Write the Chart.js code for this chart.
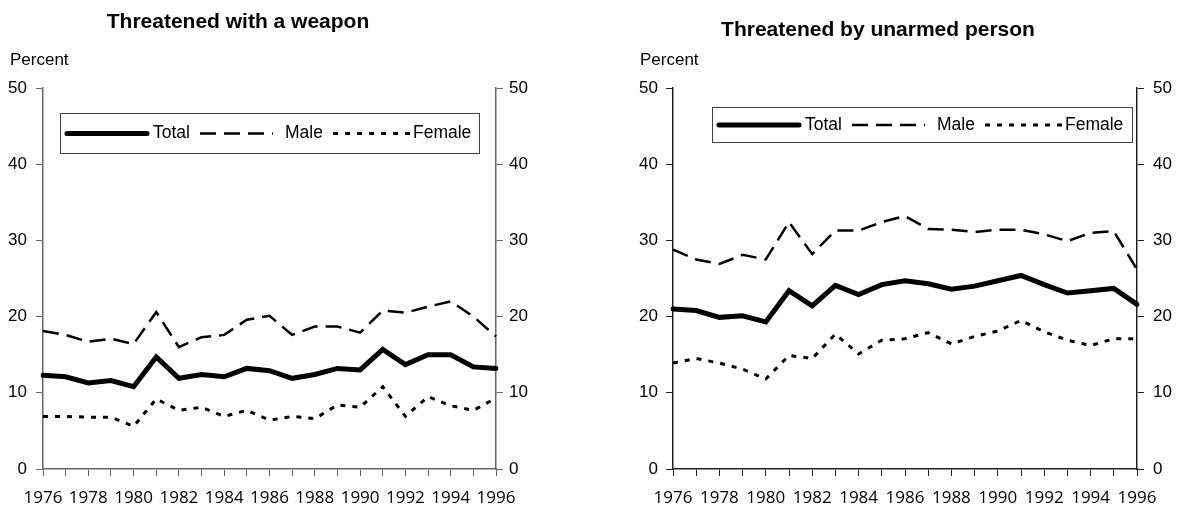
<!DOCTYPE html>
<html>
<head>
<meta charset="utf-8">
<title>Threatened with a weapon / by unarmed person</title>
<script src="https://cdn.jsdelivr.net/npm/chart.js@4.4.1/dist/chart.umd.min.js"></script>
<style>
  html, body { margin: 0; padding: 0; background: #fff; }
  body { width: 1179px; height: 514px; position: relative; overflow: hidden; }
  .panel { position: absolute; top: 0; height: 514px; }
</style>
</head>
<body>
<div class="panel" style="left:0;width:590px"><canvas id="weaponChart" width="590" height="514"></canvas></div>
<div class="panel" style="left:590px;width:589px"><canvas id="unarmedChart" width="589" height="514"></canvas></div>
<script>
const years = ['1976','1977','1978','1979','1980','1981','1982','1983','1984','1985','1986',
               '1987','1988','1989','1990','1991','1992','1993','1994','1995','1996'];
const seriesNames = ['Total', 'Male', 'Female'];
const yTicks = [0, 10, 20, 30, 40, 50];

const weaponTotal  = [12.3, 12.1, 11.3, 11.6, 10.8, 14.7, 11.9, 12.4, 12.1, 13.2, 12.9, 11.9, 12.4, 13.2, 13.0, 15.7, 13.7, 15.0, 15.0, 13.4, 13.2];
const weaponMale   = [18.1, 17.6, 16.7, 17.1, 16.4, 20.6, 16.0, 17.3, 17.6, 19.6, 20.1, 17.6, 18.7, 18.7, 17.9, 20.8, 20.5, 21.3, 22.0, 20.0, 17.4];
const weaponFemale = [6.9, 6.9, 6.8, 6.8, 5.6, 9.2, 7.7, 8.1, 6.9, 7.7, 6.4, 6.9, 6.6, 8.4, 8.1, 10.8, 6.9, 9.5, 8.3, 7.7, 9.3];

const unarmedTotal  = [21.0, 20.8, 19.9, 20.1, 19.3, 23.4, 21.4, 24.1, 22.9, 24.2, 24.7, 24.3, 23.6, 24.0, 24.7, 25.4, 24.2, 23.1, 23.4, 23.7, 21.6];
const unarmedMale   = [28.8, 27.5, 26.9, 28.1, 27.5, 32.4, 28.2, 31.3, 31.3, 32.4, 33.2, 31.5, 31.4, 31.1, 31.4, 31.4, 30.8, 29.9, 31.0, 31.2, 26.2];
const unarmedFemale = [13.9, 14.5, 13.9, 13.1, 11.8, 14.9, 14.5, 17.7, 15.1, 16.9, 17.1, 17.9, 16.4, 17.4, 18.1, 19.5, 18.0, 16.9, 16.2, 17.1, 17.1];

const SANS = "'Liberation Sans', Arial, sans-serif";
const YEAR_FONT = "'Open Sans', 'Noto Sans', sans-serif";

// line look per series: Total solid heavy, Male long dash, Female short dash
const lineStyles = [
    { borderWidth: 5, borderDash: [], borderCapStyle: 'round' },
    { borderWidth: 2.5, borderDash: [16, 8], borderCapStyle: 'butt' },
    { borderWidth: 3, borderDash: [5, 7], borderCapStyle: 'butt' }
];

// titles, "Percent" and the boxed legend are painted on the canvas here
const panelText = {
    id: 'panelText',
    afterDraw(chart, args, opts) {
        const ctx = chart.ctx;
        ctx.save();
        ctx.fillStyle = '#000';
        ctx.textBaseline = 'middle';
        ctx.font = `bold 21px ${SANS}`;
        ctx.textAlign = 'center';
        ctx.fillText(opts.title, opts.titleX, opts.titleY);
        ctx.font = `17px ${SANS}`;
        ctx.textAlign = 'left';
        ctx.fillText('Percent', opts.percentX, opts.percentY);

        // legend box
        const lg = opts.legend;
        ctx.strokeStyle = '#444';
        ctx.lineWidth = 1;
        ctx.strokeRect(lg.x + 0.5, lg.y + 0.5, lg.w, lg.h);
        const midY = lg.y + lg.h / 2 + 0.5;
        ctx.font = `17.5px ${SANS}`;
        chart.data.datasets.forEach((ds, i) => {
            const item = lg.items[i];
            ctx.beginPath();
            ctx.setLineDash(ds.borderDash || []);
            ctx.lineCap = ds.borderCapStyle || 'butt';
            ctx.lineWidth = ds.borderWidth;
            ctx.strokeStyle = '#000';
            ctx.moveTo(lg.x + item.from, midY);
            ctx.lineTo(lg.x + item.to, midY);
            ctx.stroke();
            ctx.setLineDash([]);
            ctx.fillText(ds.label, lg.x + item.text, midY);
        });
        ctx.restore();
    }
};

function buildChart(canvasId, values, o) {
    const datasets = values.map((data, i) => ({
        label: seriesNames[i],
        data: data,
        borderColor: '#000',
        backgroundColor: '#000',
        pointRadius: 0,
        tension: 0,
        fill: false,
        ...lineStyles[i]
    }));

    const yAxis = (pos, width, pad) => ({
        position: pos,
        min: 0, max: 50,
        afterBuildTicks: s => { s.ticks = yTicks.map(v => ({ value: v })); },
        afterFit: s => { s.width = width; },
        grid: { drawOnChartArea: false, drawTicks: true, tickLength: 7, color: o.axisColor },
        border: { display: true, color: o.axisColor, width: 1.5 },
        ticks: { padding: pad, color: '#000', font: { family: SANS, size: 17 } }
    });

    return new Chart(document.getElementById(canvasId), {
        type: 'line',
        data: { labels: years, datasets: datasets },
        options: {
            responsive: false,
            animation: false,
            devicePixelRatio: 1,
            layout: { padding: { top: 88, left: 0, right: 0, bottom: 0 } },
            plugins: {
                legend: { display: false },
                tooltip: { enabled: false },
                panelText: o.text
            },
            scales: {
                x: {
                    offset: false,
                    afterFit: s => { s.height = 45; },
                    grid: { drawOnChartArea: false, drawTicks: true, tickLength: 7, color: o.axisColor, offset: false },
                    border: { display: true, color: o.axisColor, width: 1.5 },
                    ticks: {
                        autoSkip: false, maxRotation: 0, padding: 12, color: '#000',
                        font: { family: YEAR_FONT, size: 17 },
                        callback: (v, i) => (i % 2 === 0 ? years[i] : '')
                    }
                },
                y: yAxis('left', o.leftW, o.leftPad),
                y2: yAxis('right', o.rightW, o.rightPad)
            }
        },
        plugins: [panelText]
    });
}

const legendItems = [
    { from: 7, to: 87, text: 93 },
    { from: 140, to: 213, text: 225 },
    { from: 273, to: 352, text: 353 }
];

buildChart('weaponChart', [weaponTotal, weaponMale, weaponFemale], {
    axisColor: '#666',
    leftW: 43, leftPad: 9, rightW: 94, rightPad: 6,
    text: {
        title: 'Threatened with a weapon', titleX: 238, titleY: 22,
        percentX: 10, percentY: 60,
        legend: { x: 60, y: 113, w: 419, h: 40, items: legendItems }
    }
});

buildChart('unarmedChart', [unarmedTotal, unarmedMale, unarmedFemale], {
    axisColor: '#222',
    leftW: 83, leftPad: 8, rightW: 42, rightPad: 9,
    text: {
        title: 'Threatened by unarmed person', titleX: 288, titleY: 30,
        percentX: 50, percentY: 60,
        legend: { x: 122, y: 107, w: 420, h: 35, items: legendItems }
    }
});
</script>
</body>
</html>
